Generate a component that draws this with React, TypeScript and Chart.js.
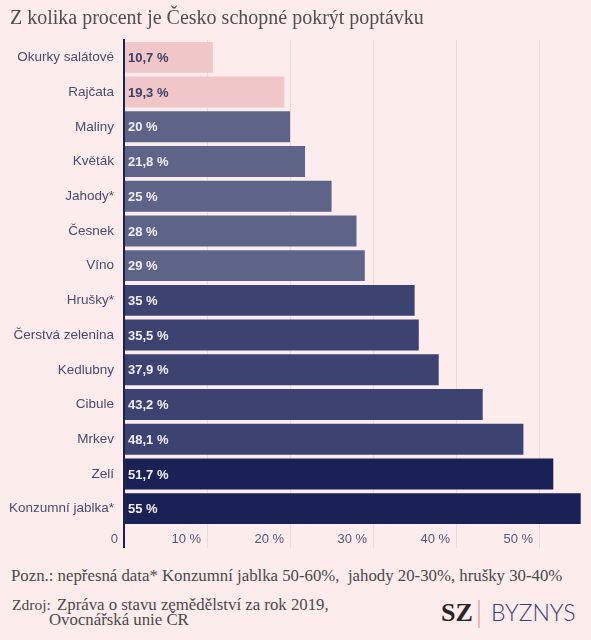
import React, { useEffect, useRef } from "react";
import { Chart, registerables } from "chart.js";

Chart.register(...registerables);

const categories = [
  "Okurky salátové",
  "Rajčata",
  "Maliny",
  "Květák",
  "Jahody*",
  "Česnek",
  "Víno",
  "Hrušky*",
  "Čerstvá zelenina",
  "Kedlubny",
  "Cibule",
  "Mrkev",
  "Zelí",
  "Konzumní jablka*",
];

const values = [10.7, 19.3, 20, 21.8, 25, 28, 29, 35, 35.5, 37.9, 43.2, 48.1, 51.7, 55];

const valueLabels = [
  "10,7 %", "19,3 %", "20 %", "21,8 %", "25 %", "28 %", "29 %",
  "35 %", "35,5 %", "37,9 %", "43,2 %", "48,1 %", "51,7 %", "55 %",
];

const PINK = "#f0c6c8";
const SLATE = "#5e6488";
const MID = "#3d4370";
const NAVY = "#1a2154";

const barColors = [PINK, PINK, SLATE, SLATE, SLATE, SLATE, SLATE, MID, MID, MID, MID, MID, NAVY, NAVY];
const labelColors = barColors.map((c) => (c === PINK ? "#3a3f68" : "#f2f0f6"));

const xTickValues = [0, 10, 20, 30, 40, 50];

const BG = "#fcecec";
const TEXT = "#4a4e6e";

const valueLabelPlugin = {
  id: "valueLabels",
  afterDatasetsDraw(chart: any) {
    const ctx = chart.ctx;
    const meta = chart.getDatasetMeta(0);
    ctx.save();
    ctx.font = "bold 13px 'Liberation Sans', Arial, sans-serif";
    ctx.textBaseline = "middle";
    ctx.textAlign = "left";
    meta.data.forEach((el: any, i: number) => {
      ctx.fillStyle = labelColors[i];
      ctx.fillText(valueLabels[i], el.base + 3, el.y + 1);
    });
    ctx.restore();
  },
};

export default function App() {
  const canvasRef = useRef<HTMLCanvasElement | null>(null);

  useEffect(() => {
    document.body.style.margin = "0";
    const canvas = canvasRef.current;
    if (!canvas) return;
    const chart = new Chart(canvas, {
      type: "bar",
      data: {
        labels: categories,
        datasets: [
          {
            data: values,
            backgroundColor: barColors,
            borderWidth: 0,
            barPercentage: 0.89,
            categoryPercentage: 1,
          },
        ],
      },
      options: {
        indexAxis: "y",
        animation: false,
        responsive: true,
        maintainAspectRatio: false,
        layout: { padding: { left: 8, right: 2, top: 40, bottom: 0 } },
        plugins: {
          legend: { display: false },
          tooltip: { enabled: false },
          title: { display: false },
        },
        scales: {
          x: {
            type: "linear",
            min: 0,
            max: 56,
            afterBuildTicks: (axis: any) => {
              axis.ticks = xTickValues.map((v) => ({ value: v }));
            },
            afterFit: (axis: any) => {
              axis.height = 30;
            },
            border: { display: false },
            grid: {
              drawTicks: true,
              tickLength: 22,
              color: (c: any) => (c.tick && c.tick.value === 0 ? NAVY : "#eadadd"),
              lineWidth: (c: any) => (c.tick && c.tick.value === 0 ? 2 : 1),
            },
            ticks: {
              align: "end",
              labelOffset: -6,
              padding: -16,
              color: "#555a78",
              font: { family: "'Liberation Sans', Arial, sans-serif", size: 13 },
              callback: (v: any) => (v === 0 ? "0" : `${v} %`),
            },
          },
          y: {
            afterFit: (axis: any) => {
              axis.width = 116;
            },
            grid: { display: false, drawTicks: false },
            border: { display: true, color: NAVY, width: 2 },
            ticks: {
              padding: 10,
              color: TEXT,
              font: { family: "'Liberation Sans', Arial, sans-serif", size: 13.5 },
            },
          },
        },
      },
      plugins: [valueLabelPlugin],
    });
    return () => chart.destroy();
  }, []);

  const serif = "'Liberation Serif', 'Times New Roman', serif";
  const foot = {
    position: "absolute" as const,
    fontSize: 16.8,
    lineHeight: "18px",
    color: "#4a4a4a",
    whiteSpace: "pre" as const,
  };

  return (
    <div
      style={{
        position: "relative",
        width: 591,
        height: 640,
        background: BG,
        overflow: "hidden",
        fontFamily: serif,
      }}
    >
      <div style={{ position: "absolute", left: 0, top: 0, width: 591, height: 556 }}>
        <canvas ref={canvasRef} />
      </div>
      <div
        style={{
          position: "absolute",
          left: 10,
          top: 6,
          fontSize: 20,
          lineHeight: "22px",
          color: "#4f4f4f",
          whiteSpace: "nowrap",
        }}
      >
        Z kolika procent je Česko schopné pokrýt poptávku
      </div>
      <div style={{ ...foot, left: 11, top: 567 }}>
        {"Pozn.: nepřesná data* Konzumní jablka 50-60%,  jahody 20-30%, hrušky 30-40%"}
      </div>
      <div style={{ ...foot, left: 12, top: 596, fontSize: 15.5 }}>Zdroj:</div>
      <div style={{ ...foot, left: 57, top: 596 }}>Zpráva o stavu zemědělství za rok 2019,</div>
      <div style={{ ...foot, left: 49, top: 611 }}>Ovocnářská unie ČR</div>
      <div
        style={{
          position: "absolute",
          left: 441,
          top: 600,
          fontSize: 26,
          lineHeight: "26px",
          fontWeight: "bold",
          color: "#2b2522",
          fontFamily: serif,
        }}
      >
        SZ
      </div>
      <div
        style={{
          position: "absolute",
          left: 478,
          top: 600,
          width: 2,
          height: 28,
          background: "#e8b8bc",
        }}
      />
      <div
        style={{
          position: "absolute",
          left: 491,
          top: 600,
          fontSize: 23,
          lineHeight: "25px",
          fontWeight: 300,
          color: "#3b4170",
          fontFamily: "Lato, 'Liberation Sans', sans-serif",
          whiteSpace: "nowrap",
        }}
      >
        BYZNYS
      </div>
    </div>
  );
}
